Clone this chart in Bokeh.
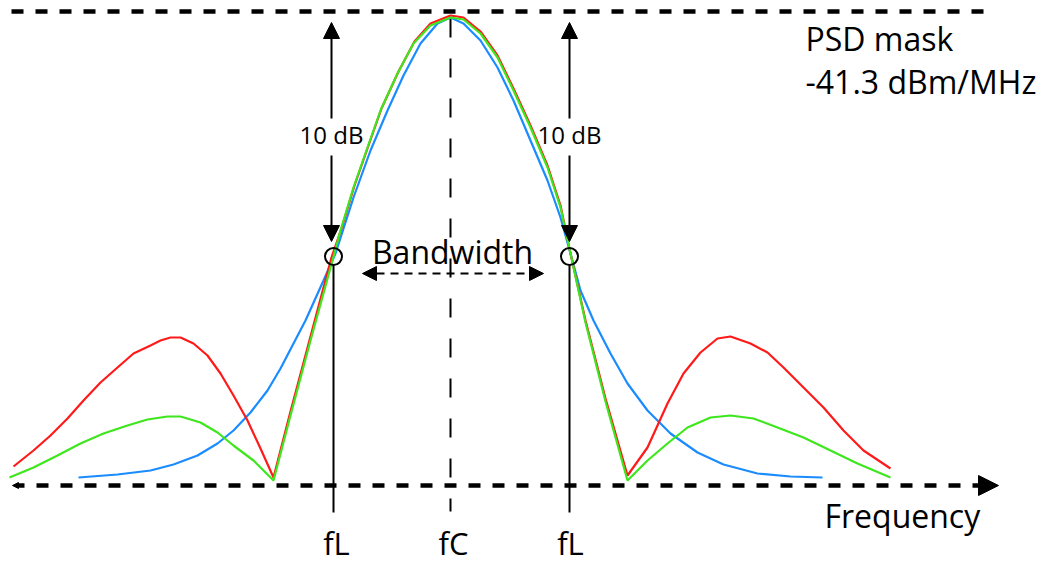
from bokeh.plotting import figure
from bokeh.models import Range1d, Arrow, NormalHead
from bokeh.core.properties import value
from bokeh.embed import file_html
from bokeh.resources import INLINE

W, H = 1040, 562

red_x = [13, 33, 50, 67, 83, 100, 117, 133, 150, 160, 170, 180, 193, 207, 220, 233, 247, 260, 273,
         290, 310, 331, 341, 354, 368, 381, 398, 414, 430, 450, 463, 480, 497, 513, 530, 547, 560, 570,
         585, 605, 627, 647, 667, 683, 700, 717, 730, 750, 767, 783, 803, 823, 843, 863, 890]
red_y = [466, 450, 435, 418, 400, 382, 367, 353, 345, 340, 337, 337, 343, 355, 373, 395, 420, 448, 477,
         411, 336, 257, 228, 185, 145, 108, 71, 41, 23, 15, 17, 31, 55, 88, 125, 165, 205, 253,
         320, 398, 475, 447, 403, 373, 352, 338, 336, 343, 352, 367, 387, 407, 430, 450, 468]

green_x = [9, 33, 57, 80, 103, 127, 147, 167, 180, 200, 217, 233, 253, 273,
           290, 310, 332, 340, 353, 367, 380, 397, 413, 430, 450, 463, 480, 497, 513, 530, 547, 560, 570,
           585, 605, 627, 647, 667, 687, 710, 730, 753, 777, 803, 830, 857, 890]
green_y = [477, 467, 455, 443, 433, 425, 419, 416, 416, 422, 432, 445, 460, 480,
           415, 340, 260, 230, 187, 147, 110, 73, 43, 25, 17, 19, 33, 57, 90, 127, 167, 207, 253,
           322, 401, 480, 460, 443, 427, 417, 415, 418, 427, 437, 450, 463, 477]

blue_x = [78, 117, 150, 173, 197, 217, 233, 250, 267, 280, 293, 305, 323, 335, 353, 370, 387, 403,
          420, 437, 450, 463, 480, 497, 513, 530, 547, 560, 570, 580, 593, 610, 627, 647, 670, 697,
          723, 757, 790, 822]
blue_y = [477, 474, 470, 464, 455, 443, 430, 412, 390, 368, 343, 320, 280, 253, 197, 150, 110, 75,
          43, 23, 17, 23, 40, 67, 100, 140, 180, 217, 253, 290, 320, 353, 383, 410, 433, 452,
          464, 473, 476, 477]

# reference lines / markers (same units)
mask_level = 11
axis_level = 485
fc = 450
fl = [333, 569]
fl_level = 256
bw_level = 273

tick_labels = ["fL", "fC", "fL"]
tick_label_x = [336, 453, 570]


def up(v):
    return H - v


def ups(vs):
    return [H - v for v in vs]


FONT = value("Open Sans")
BIG = dict(text_font=FONT, text_font_size="32px", text_baseline="alphabetic",
           text_color="black", y_offset=-12)
SMALL = dict(text_font=FONT, text_font_size="24px", text_baseline="alphabetic",
             text_color="black", y_offset=-9)

p = figure(width=W, height=H, x_range=Range1d(0, W), y_range=Range1d(0, H),
           x_axis_type=None, y_axis_type=None, output_backend="svg",
           toolbar_location=None, min_border=0)
p.grid.visible = False
p.outline_line_color = None
p.background_fill_color = "white"


def head(size):
    return NormalHead(size=size, fill_color="black", line_color="black", line_width=1)


# PSD mask line
p.segment(x0=[11], y0=[up(mask_level)], x1=[985], y1=[up(mask_level)],
          line_color="black", line_width=4.5, line_dash="12 12")

# frequency axis (dashed with arrow)
p.add_layout(Arrow(end=head(20), start=head(6),
                   x_start=12, y_start=up(axis_level), x_end=998, y_end=up(axis_level),
                   line_color="black", line_width=4.5, line_dash="12 12"))

# centre frequency line
p.segment(x0=[fc], y0=[up(18)], x1=[fc], y1=[up(511)], line_color="black",
          line_width=2, line_dash="19 21")

# lower / upper frequency lines
p.segment(x0=fl, y0=[up(fl_level + 8)] * 2, x1=fl, y1=[up(512)] * 2,
          line_color="black", line_width=2)

# spectra
p.line(blue_x, ups(blue_y), line_color="#1a8cff", line_width=2.2)
p.line(red_x, ups(red_y), line_color="#ff1a1a", line_width=2.2)
p.line(green_x, ups(green_y), line_color="#3ee61e", line_width=2.2)

# -10 dB points
p.circle(x=fl, y=[up(fl_level)] * 2, radius=8.5, fill_color=None,
         line_color="black", line_width=2)

# 10 dB arrows
for ax in [331, 569]:
    p.add_layout(Arrow(end=head(16), x_start=ax, y_start=up(118), x_end=ax, y_end=up(22),
                       line_color="black", line_width=2))
    p.add_layout(Arrow(end=head(16), x_start=ax, y_start=up(155), x_end=ax, y_end=up(241),
                       line_color="black", line_width=2))
p.text(x=[331, 569], y=[up(143)] * 2, text=["10 dB", "10 dB"], text_align="center", **SMALL)

# bandwidth arrow
p.add_layout(Arrow(start=head(14), end=head(14),
                   x_start=362, y_start=up(bw_level), x_end=543, y_end=up(bw_level),
                   line_color="black", line_width=2, line_dash="8 6"))
p.text(x=[452], y=[up(263)], text=["Bandwidth"], text_align="center", **BIG)

# labels
p.text(x=[805, 805], y=[up(50), up(93)], text=["PSD mask", "-41.3 dBm/MHz"],
       text_align="left", **BIG)
p.text(x=[824], y=[up(527)], text=["Frequency"], text_align="left", **BIG)
p.text(x=tick_label_x, y=[up(553)] * 3, text=tick_labels, text_align="center",
       text_font=FONT, text_font_size="31px", text_baseline="alphabetic",
       text_color="black", y_offset=-11)

open("out.html", "w").write(file_html(p, INLINE))
